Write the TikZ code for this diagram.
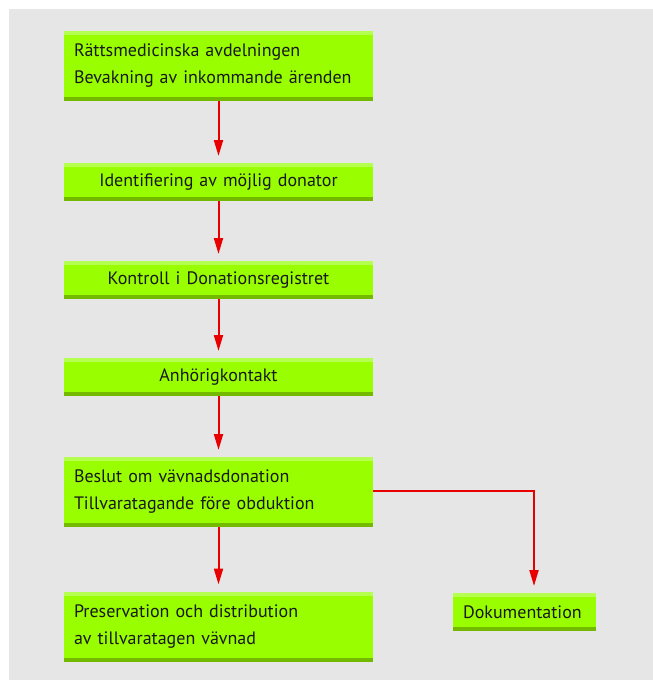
\documentclass[tikz,border=0pt]{standalone}
\usepackage{fontspec}
\setmainfont{PT Sans}
\usetikzlibrary{positioning}
\usetikzlibrary{arrows.meta}

\definecolor{boxgreen}{RGB}{153,255,0}
\definecolor{boxlight}{RGB}{180,255,80}
\definecolor{boxdark}{RGB}{115,185,0}
\definecolor{bggray}{RGB}{230,230,230}
\definecolor{flowred}{RGB}{232,0,0}

\begin{document}
\begin{tikzpicture}[
    x=1pt,y=-1pt,
    every node/.style={
        inner sep=0pt,
        outer sep=0pt,
        font=\fontsize{18}{27}\selectfont,
        text=black!90,
    },
    greenbox/.style={
        fill=boxgreen,rectangle,
        minimum width=309pt,
        minimum height=#1,
        path picture={
            \fill[boxlight] (path picture bounding box.north west)
                rectangle ([yshift=-4pt]path picture bounding box.north east);
            \fill[boxdark] ([yshift=4pt]path picture bounding box.south west)
                rectangle (path picture bounding box.south east);
        },
    },
    leftbox/.style={
        greenbox=70pt,
        align=left,
        text width=289pt,
    },
    midbox/.style={
        greenbox=38pt,
        align=center,
        text width=289pt,
    },
    flow/.style={
        draw=flowred,
        line width=2pt,
        -{Triangle[width=9pt,length=16pt]},
        shorten >=7pt,
    },
]
    % ~~~ canvas ~~~~~~~~~~~~~~~~~~~~~~~~~~~~~~~~~~~~~~~~~~~~~~~~~~
    \useasboundingbox (0,0) rectangle (653,680);
    \fill[bggray] (9,9) rectangle (653,680);

    % ~~~ main column ~~~~~~~~~~~~~~~~~~~~~~~~~~~~~~~~~~~~~~~~~~~~~
    \node[leftbox] (bevakning) at (218.5,66) {Rättsmedicinska avdelningen\\Bevakning av inkommande ärenden};
    \node[midbox]  (identifiering) at (218.5,182) {Identifiering av möjlig donator};
    \node[midbox]  (kontroll) at (218.5,280) {Kontroll i Donationsregistret};
    \node[midbox]  (anhorig) at (218.5,377) {Anhörigkontakt};
    \node[leftbox] (beslut) at (218.5,492) {Beslut om vävnadsdonation\\Tillvaratagande före obduktion};
    \node[leftbox] (preservation) at (218.5,626.5) {Preservation och distribution\\av tillvaratagen vävnad};

    % ~~~ side branch ~~~~~~~~~~~~~~~~~~~~~~~~~~~~~~~~~~~~~~~~~~~~~
    \node[greenbox=38pt,minimum width=143pt,align=left,text width=123pt] (dokumentation) at (524.5,612) {Dokumentation};

    % ~~~ connectors ~~~~~~~~~~~~~~~~~~~~~~~~~~~~~~~~~~~~~~~~~~~~~~
    \foreach \a/\b in {bevakning/identifiering,identifiering/kontroll,kontroll/anhorig,anhorig/beslut,beslut/preservation}
    {
        \draw[flow] (\a.south) -- (\b.north);
    }
    \draw[flow] ([yshift=1pt]beslut.east) -| ([xshift=9.5pt]dokumentation.north);
\end{tikzpicture}
\end{document}
